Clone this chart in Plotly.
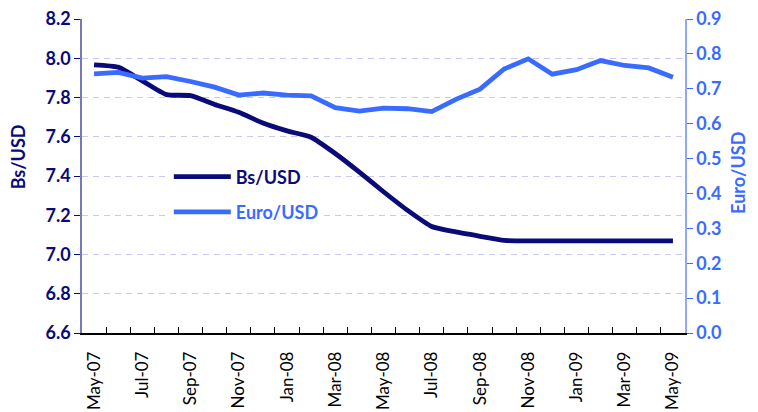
import plotly.graph_objects as go

months = ["May-07", "Jun-07", "Jul-07", "Aug-07", "Sep-07", "Oct-07", "Nov-07", "Dec-07",
          "Jan-08", "Feb-08", "Mar-08", "Apr-08", "May-08", "Jun-08", "Jul-08", "Aug-08",
          "Sep-08", "Oct-08", "Nov-08", "Dec-08", "Jan-09", "Feb-09", "Mar-09", "Apr-09", "May-09"]
bs_usd = [7.967, 7.955, 7.885, 7.815, 7.810, 7.765, 7.725, 7.670, 7.630, 7.598, 7.515, 7.420,
          7.320, 7.225, 7.143, 7.115, 7.093, 7.072, 7.07, 7.07, 7.07, 7.07, 7.07, 7.07, 7.07]
euro_usd = [0.743, 0.747, 0.731, 0.735, 0.721, 0.705, 0.682, 0.688, 0.682, 0.680, 0.646, 0.636,
            0.645, 0.643, 0.635, 0.670, 0.699, 0.757, 0.786, 0.742, 0.755, 0.781, 0.767, 0.760, 0.733]

NAVY = "#0A0A78"
BLUE = "#3A6BFF"
FONT = "Lato"

ticktext = [m if i % 2 == 0 else "" for i, m in enumerate(months)]

fig = go.Figure()
fig.add_trace(go.Scatter(x=months, y=bs_usd, name="Bs/USD", mode="lines",
                         line=dict(color=NAVY, width=4.8, shape="spline", smoothing=0.5),
                         legend="legend2", showlegend=True))
fig.add_trace(go.Scatter(x=months, y=euro_usd, name="Euro/USD", mode="lines",
                         line=dict(color=BLUE, width=4.8), yaxis="y2", legend="legend3",
                         showlegend=True))

fig.update_layout(
    width=750, height=404,
    margin=dict(l=74, r=73, t=11, b=79),
    plot_bgcolor="white", paper_bgcolor="white",
    font=dict(family=FONT),
    xaxis=dict(type="category", range=[-0.5, 24.5], tickmode="array",
               tickvals=months, ticktext=ticktext, tickangle=-90,
               tickson="boundaries", ticks="inside", ticklen=6, tickcolor="black",
               showline=True, linecolor="black", linewidth=1.5,
               showgrid=False, automargin=False,
               tickfont=dict(family=FONT, size=17, color="black"),
               ticklabelstandoff=10),
    yaxis=dict(range=[6.6, 8.2004], tick0=6.6, dtick=0.2, tickformat=".1f",
               showline=True, linecolor="#7878B8", linewidth=1.5,
               ticks="outside", ticklen=6, tickcolor=NAVY,
               showgrid=True, gridcolor="#C8C8F2", griddash="6px,5px", gridwidth=1,
               zeroline=False, automargin=False, ticklabeloverflow="allow",
               tickfont=dict(family=FONT, size=18, color=NAVY, weight="bold")),
    yaxis2=dict(range=[0, 0.90025], tick0=0, dtick=0.1, tickformat=".1f", overlaying="y",
                side="right",
                showline=True, linecolor="#90A8FF", linewidth=1.5,
                ticks="outside", ticklen=6, tickcolor=BLUE,
                showgrid=False, zeroline=False, automargin=False, ticklabeloverflow="allow",
                tickfont=dict(family=FONT, size=18, color=BLUE, weight="bold")),
    legend2=dict(x=0.144, y=0.497, xanchor="left", yanchor="middle", bgcolor="white",
                 itemwidth=57,
                 font=dict(family=FONT, size=18, color=NAVY, weight="bold"), visible=True),
    legend3=dict(x=0.144, y=0.385, xanchor="left", yanchor="middle", bgcolor="white",
                 itemwidth=57,
                 font=dict(family=FONT, size=18, color=BLUE, weight="bold"), visible=True),
    annotations=[
        dict(text="Bs/USD", xref="paper", yref="paper", x=-0.106, y=0.56, textangle=-90,
             showarrow=False, font=dict(family=FONT, size=18, color=NAVY, weight="bold"),
             xanchor="center", yanchor="middle"),
        dict(text="Euro/USD", xref="paper", yref="paper", x=1.088, y=0.51, textangle=-90,
             showarrow=False, font=dict(family=FONT, size=18, color=BLUE, weight="bold"),
             xanchor="center", yanchor="middle"),
    ],
)

fig.write_html("out.html")
